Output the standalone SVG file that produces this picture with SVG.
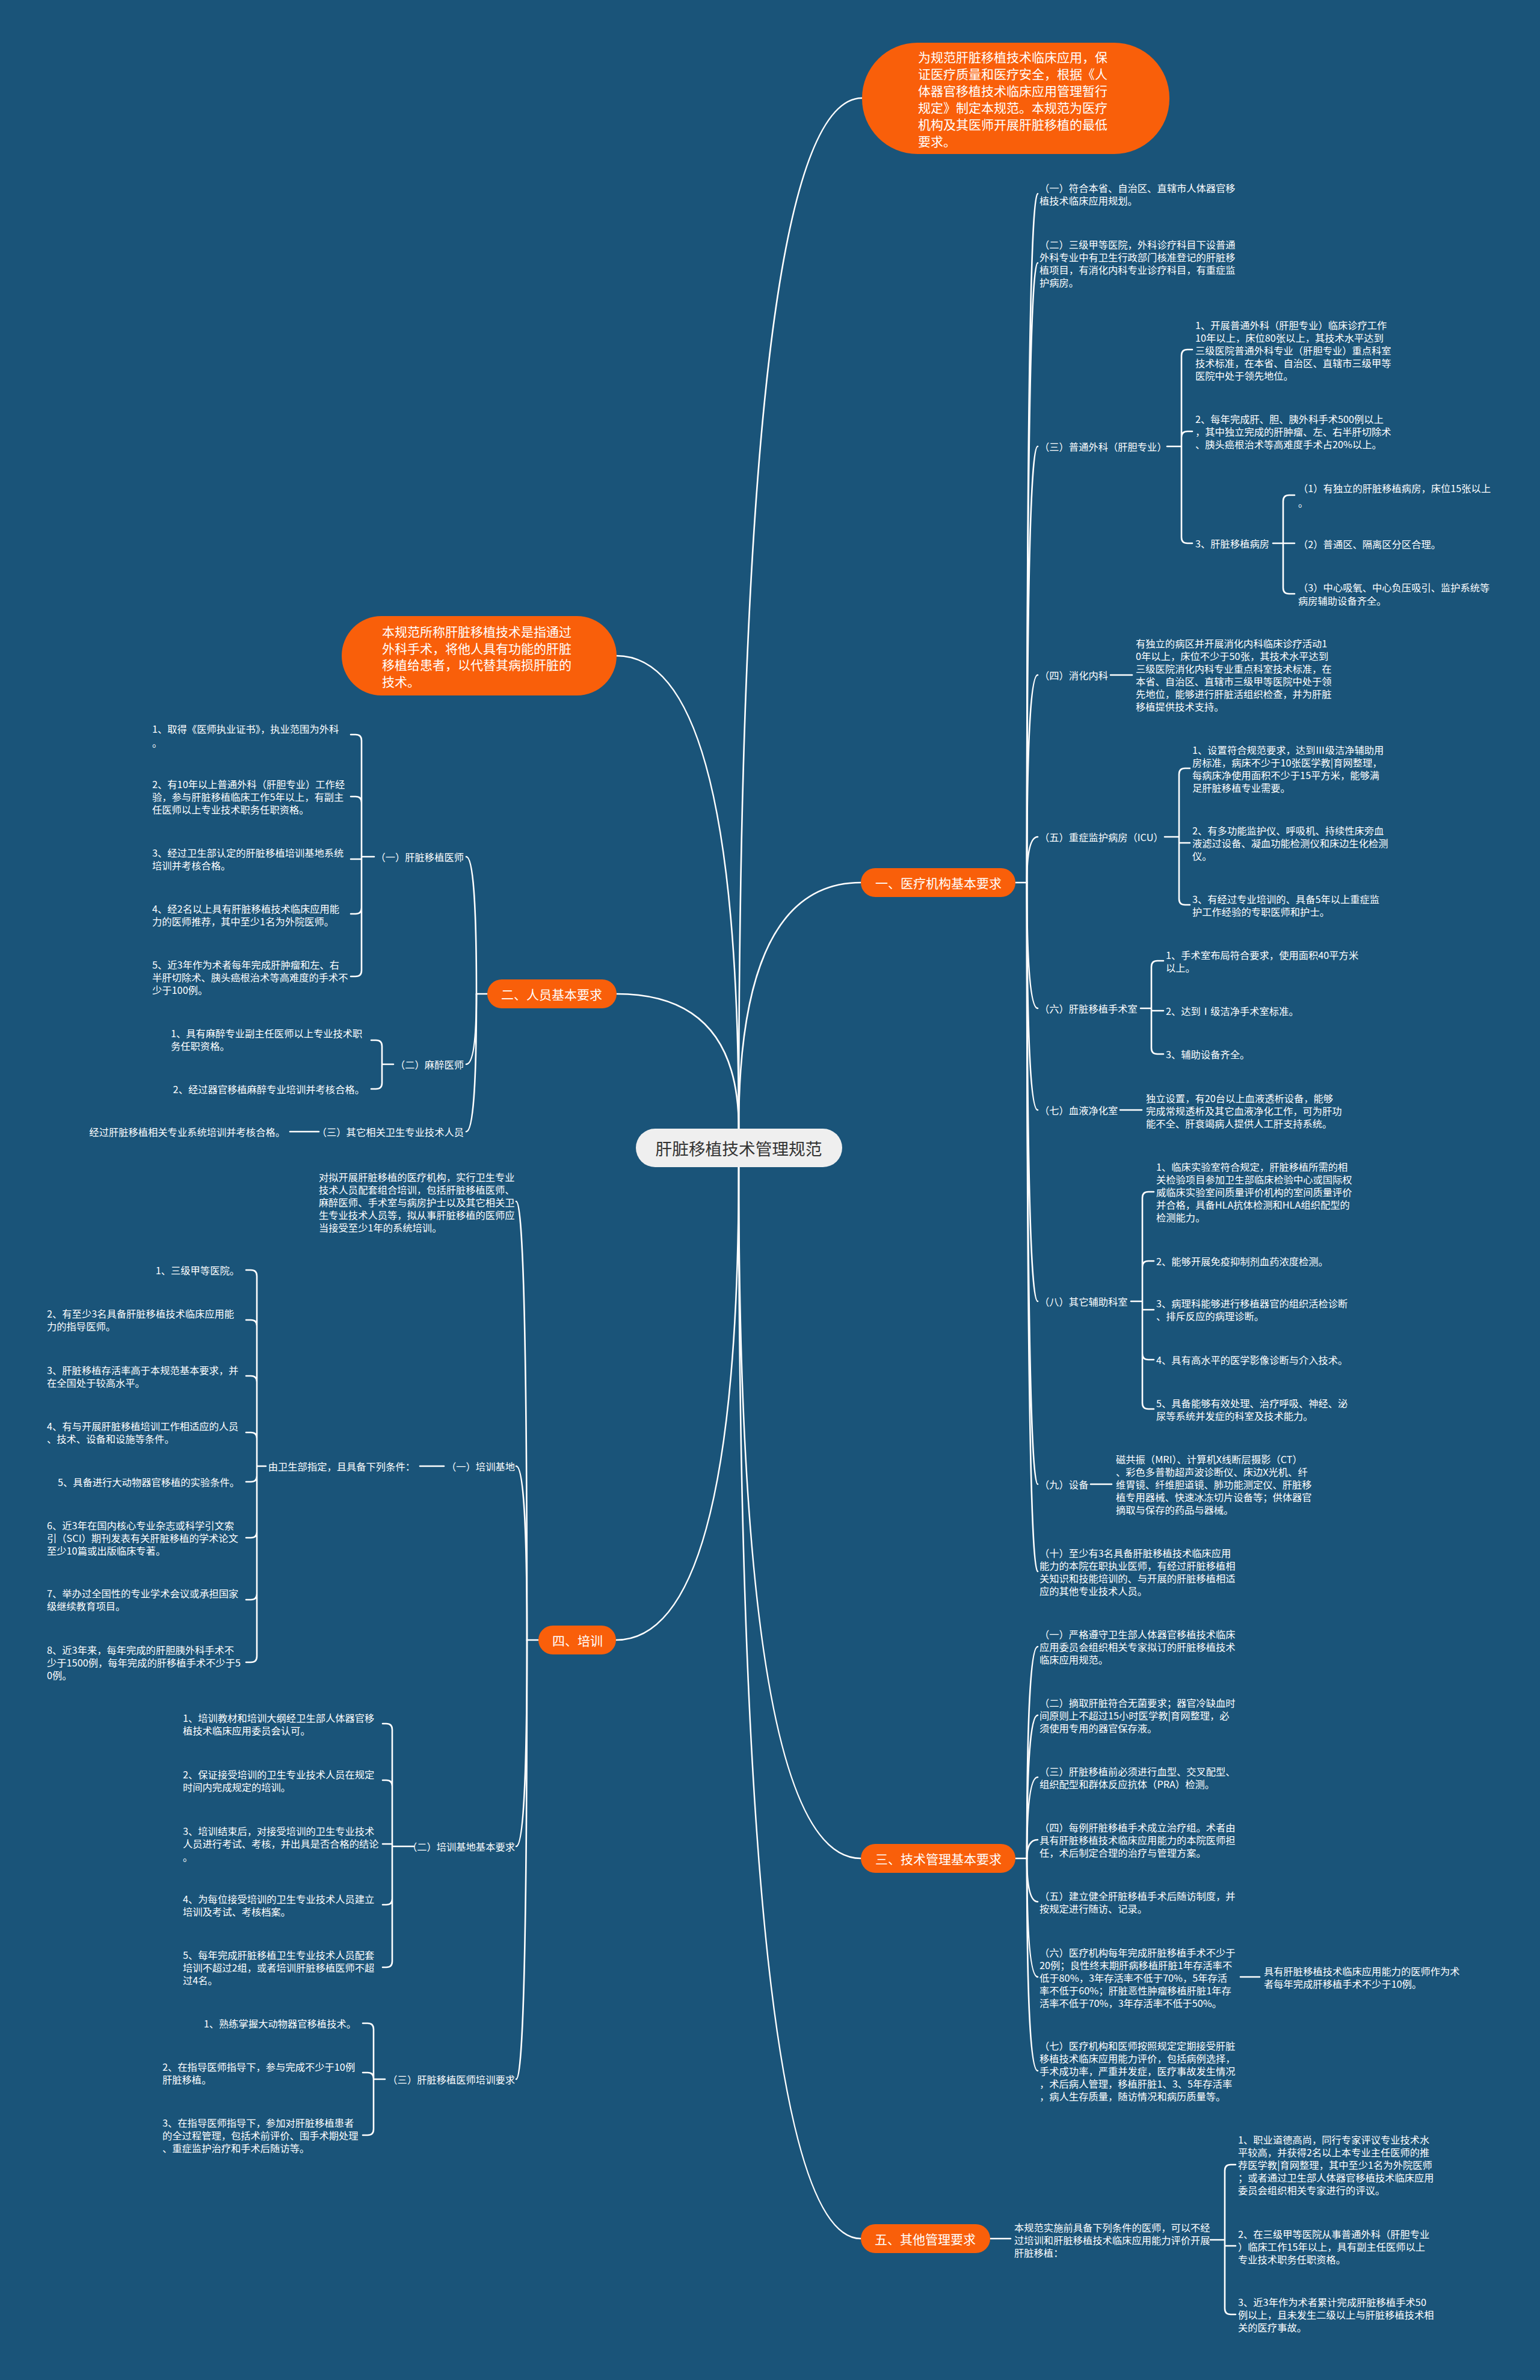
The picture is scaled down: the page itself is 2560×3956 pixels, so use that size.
<svg xmlns="http://www.w3.org/2000/svg" width="2560" height="3956" viewBox="0 0 2560 3956">
<style>
.t{font-family:"Noto Sans CJK SC","Noto Sans",sans-serif;font-size:16.3px;fill:#fff;dominant-baseline:central}
.e{text-anchor:end}
.p{font-family:"Noto Sans CJK SC","Noto Sans",sans-serif;font-size:21px;fill:#fff;dominant-baseline:central;text-anchor:middle}
.b{font-family:"Noto Sans CJK SC","Noto Sans",sans-serif;font-size:21px;fill:#fff;dominant-baseline:central}
.r{font-family:"Noto Sans CJK SC","Noto Sans",sans-serif;font-size:27.7px;fill:#333;dominant-baseline:central;text-anchor:middle}
.o{fill:#f95f0a}
.c path{fill:none;stroke:#fff;stroke-width:2.6;stroke-linecap:round}
</style>
<rect width="2560" height="3956" fill="#1a5479"/>
<g id="connectors" class="c">
<path d="M1228,1876 Q1228,163 1433,163"/>
<path d="M1228,1876 Q1228,1090 1025,1090"/>
<path d="M1228,1876 Q1228,1467 1431,1467"/>
<path d="M1228,1876 Q1228,1652 1025,1652"/>
<path d="M1228,1940 Q1228,2726 1024,2726"/>
<path d="M1228,1940 Q1228,3089 1431,3089"/>
<path d="M1228,1940 Q1228,3721 1431,3721"/>
<path d="M1688,1467 H1707 Q1707,322 1725,322"/>
<path d="M1707,1467 Q1707,437 1725,437"/>
<path d="M1707,1467 Q1707,742 1725,742"/>
<path d="M1707,1467 Q1707,1122 1725,1122"/>
<path d="M1707,1467 Q1707,1391 1725,1391"/>
<path d="M1707,1467 Q1707,1676 1725,1676"/>
<path d="M1707,1467 Q1707,1845 1725,1845"/>
<path d="M1707,1467 Q1707,2163 1725,2163"/>
<path d="M1707,1467 Q1707,2467 1725,2467"/>
<path d="M1707,1467 Q1707,2612 1725,2612"/>
<path d="M1940,742 H1964 M1964,742 V591 Q1964,581 1974,581 H1982 M1964,742 V727 Q1964,717 1974,717 H1982 M1964,742 V893 Q1964,903 1974,903 H1982"/>
<path d="M2116,903 H2152 M2133,903 V833 Q2133,823 2143,823 H2152 M2133,903 V977 Q2133,987 2143,987 H2152"/>
<path d="M1846,1122 H1882"/>
<path d="M1936,1391 H1960 M1960,1391 V1287 Q1960,1277 1970,1277 H1978 M1960,1391 V1401 H1978 M1960,1391 V1494 Q1960,1504 1970,1504 H1978"/>
<path d="M1896,1676 H1914 M1914,1676 V1607 Q1914,1597 1924,1597 H1934 M1914,1676 V1680 H1934 M1914,1676 V1742 Q1914,1752 1924,1752 H1934"/>
<path d="M1862,1845 H1898"/>
<path d="M1880,2163 H1899 M1899,2163 V1991 Q1899,1981 1909,1981 H1918 M1899,2163 V2106 Q1899,2096 1909,2096 H1918 M1899,2163 V2177 H1918 M1899,2163 V2250 Q1899,2260 1909,2260 H1918 M1899,2163 V2332 Q1899,2342 1909,2342 H1918"/>
<path d="M1813,2467 H1848"/>
<path d="M1688,3089 H1707 Q1707,2737 1725,2737"/>
<path d="M1707,3089 Q1707,2851 1725,2851"/>
<path d="M1707,3089 Q1707,2954 1725,2954"/>
<path d="M1707,3089 Q1707,3058 1725,3058"/>
<path d="M1707,3089 Q1707,3161 1725,3161"/>
<path d="M1707,3089 Q1707,3286 1725,3286"/>
<path d="M1707,3089 Q1707,3442 1725,3442"/>
<path d="M2062,3286 H2094"/>
<path d="M1646,3721 H1680"/>
<path d="M2012,3723 H2036 M2036,3723 V3608 Q2036,3598 2046,3598 H2054 M2036,3723 V3733 H2054 M2036,3723 V3837 Q2036,3847 2046,3847 H2054"/>
<path d="M810,1652 H792 Q792,1424 775,1424"/>
<path d="M792,1652 Q792,1769 775,1769"/>
<path d="M792,1652 Q792,1881 775,1881"/>
<path d="M622,1424 H601 M601,1424 V1231 Q601,1221 591,1221 H583 M601,1424 V1334 Q601,1324 591,1324 H583 M601,1424 V1428 H583 M601,1424 V1509 Q601,1519 591,1519 H583 M601,1424 V1613 Q601,1623 591,1623 H583"/>
<path d="M654,1769 H635 M635,1769 V1739 Q635,1729 625,1729 H617 M635,1769 V1800 Q635,1810 625,1810 H617"/>
<path d="M530,1881 H482"/>
<path d="M895,2726 H876 Q876,1997 858,1997"/>
<path d="M876,2726 Q876,2437 858,2437"/>
<path d="M876,2726 Q876,3069 858,3069"/>
<path d="M876,2726 Q876,3456 858,3456"/>
<path d="M738,2437 H698"/>
<path d="M442,2437 H427 M427,2437 V2121 Q427,2111 417,2111 H409 M427,2437 V2204 Q427,2194 417,2194 H409 M427,2437 V2297 Q427,2287 417,2287 H409 M427,2437 V2391 Q427,2381 417,2381 H409 M427,2437 V2453 Q427,2463 417,2463 H409 M427,2437 V2546 Q427,2556 417,2556 H409 M427,2437 V2649 Q427,2659 417,2659 H409 M427,2437 V2753 Q427,2763 417,2763 H409"/>
<path d="M688,3069 H652 M652,3069 V2875 Q652,2865 642,2865 H636 M652,3069 V2969 Q652,2959 642,2959 H636 M652,3069 V3065 H636 M652,3069 V3156 Q652,3166 642,3166 H636 M652,3069 V3260 Q652,3270 642,3270 H636"/>
<path d="M640,3456 H621 M621,3456 V3373 Q621,3363 611,3363 H603 M621,3456 V3455 Q621,3445 611,3445 H603 M621,3456 V3539 Q621,3549 611,3549 H603"/>
</g>
<g id="root"><rect x="1057" y="1876" width="343" height="64" rx="32" fill="#efefef"/><text class="r" x="1228" y="1908">肝脏移植技术管理规范</text></g>
<g id="intro1"><rect class="o" x="1433" y="71" width="511" height="185" rx="92"/><text class="b" x="1526" y="94"><tspan x="1526">为规范肝脏移植技术临床应用，保</tspan><tspan x="1526" dy="28">证医疗质量和医疗安全，根据《人</tspan><tspan x="1526" dy="28">体器官移植技术临床应用管理暂行</tspan><tspan x="1526" dy="28">规定》制定本规范。本规范为医疗</tspan><tspan x="1526" dy="28">机构及其医师开展肝脏移植的最低</tspan><tspan x="1526" dy="28">要求。</tspan></text></g>
<g id="intro2"><rect class="o" x="568" y="1024" width="457" height="132" rx="66"/><text class="b" x="635" y="1049"><tspan x="635">本规范所称肝脏移植技术是指通过</tspan><tspan x="635" dy="27.5">外科手术，将他人具有功能的肝脏</tspan><tspan x="635" dy="27.5">移植给患者，以代替其病损肝脏的</tspan><tspan x="635" dy="27.5">技术。</tspan></text></g>
<g id="b1"><rect class="o" x="1431" y="1443" width="257" height="48" rx="24"/><text class="p" x="1560" y="1467">一、医疗机构基本要求</text></g>
<g id="b2"><rect class="o" x="810" y="1628" width="215" height="48" rx="24"/><text class="p" x="917" y="1652">二、人员基本要求</text></g>
<g id="b3"><rect class="o" x="1431" y="3065" width="257" height="48" rx="24"/><text class="p" x="1560" y="3089">三、技术管理基本要求</text></g>
<g id="b4"><rect class="o" x="895" y="2702" width="129" height="48" rx="24"/><text class="p" x="960" y="2726">四、培训</text></g>
<g id="b5"><rect class="o" x="1431" y="3697" width="215" height="48" rx="24"/><text class="p" x="1538" y="3721">五、其他管理要求</text></g>
<g id="n1-1"><text class="t" x="1728" y="312"><tspan x="1728">（一）符合本省、自治区、直辖市人体器官移</tspan><tspan x="1728" dy="21">植技术临床应用规划。</tspan></text></g>
<g id="n1-2"><text class="t" x="1728" y="406"><tspan x="1728">（二）三级甲等医院，外科诊疗科目下设普通</tspan><tspan x="1728" dy="21">外科专业中有卫生行政部门核准登记的肝脏移</tspan><tspan x="1728" dy="21">植项目，有消化内科专业诊疗科目，有重症监</tspan><tspan x="1728" dy="21">护病房。</tspan></text></g>
<g id="n1-3"><text class="t" x="1728" y="742">（三）普通外科（肝胆专业）</text></g>
<g id="n1-3-1"><text class="t" x="1987" y="540"><tspan x="1987">1、开展普通外科（肝胆专业）临床诊疗工作</tspan><tspan x="1987" dy="21">10年以上，床位80张以上，其技术水平达到</tspan><tspan x="1987" dy="21">三级医院普通外科专业（肝胆专业）重点科室</tspan><tspan x="1987" dy="21">技术标准，在本省、自治区、直辖市三级甲等</tspan><tspan x="1987" dy="21">医院中处于领先地位。</tspan></text></g>
<g id="n1-3-2"><text class="t" x="1987" y="696"><tspan x="1987">2、每年完成肝、胆、胰外科手术500例以上</tspan><tspan x="1987" dy="21">，其中独立完成的肝肿瘤、左、右半肝切除术</tspan><tspan x="1987" dy="21">、胰头癌根治术等高难度手术占20%以上。</tspan></text></g>
<g id="n1-3-3"><text class="t" x="1987" y="903">3、肝脏移植病房</text></g>
<g id="n1-3-3-1"><text class="t" x="2158" y="811"><tspan x="2158">（1）有独立的肝脏移植病房，床位15张以上</tspan><tspan x="2158" dy="24">。</tspan></text></g>
<g id="n1-3-3-2"><text class="t" x="2158" y="904">（2）普通区、隔离区分区合理。</text></g>
<g id="n1-3-3-3"><text class="t" x="2158" y="976"><tspan x="2158">（3）中心吸氧、中心负压吸引、监护系统等</tspan><tspan x="2158" dy="22">病房辅助设备齐全。</tspan></text></g>
<g id="n1-4"><text class="t" x="1728" y="1122">（四）消化内科</text></g>
<g id="n1-4-1"><text class="t" x="1888" y="1069"><tspan x="1888">有独立的病区并开展消化内科临床诊疗活动1</tspan><tspan x="1888" dy="21">0年以上，床位不少于50张，其技术水平达到</tspan><tspan x="1888" dy="21">三级医院消化内科专业重点科室技术标准，在</tspan><tspan x="1888" dy="21">本省、自治区、直辖市三级甲等医院中处于领</tspan><tspan x="1888" dy="21">先地位，能够进行肝脏活组织检查，并为肝脏</tspan><tspan x="1888" dy="21">移植提供技术支持。</tspan></text></g>
<g id="n1-5"><text class="t" x="1728" y="1391">（五）重症监护病房（ICU）</text></g>
<g id="n1-5-1"><text class="t" x="1982" y="1246"><tspan x="1982">1、设置符合规范要求，达到Ⅲ级洁净辅助用</tspan><tspan x="1982" dy="21">房标准，病床不少于10张医学教|育网整理，</tspan><tspan x="1982" dy="21">每病床净使用面积不少于15平方米，能够满</tspan><tspan x="1982" dy="21">足肝脏移植专业需要。</tspan></text></g>
<g id="n1-5-2"><text class="t" x="1982" y="1380"><tspan x="1982">2、有多功能监护仪、呼吸机、持续性床旁血</tspan><tspan x="1982" dy="21">液滤过设备、凝血功能检测仪和床边生化检测</tspan><tspan x="1982" dy="21">仪。</tspan></text></g>
<g id="n1-5-3"><text class="t" x="1982" y="1494"><tspan x="1982">3、有经过专业培训的、具备5年以上重症监</tspan><tspan x="1982" dy="21">护工作经验的专职医师和护士。</tspan></text></g>
<g id="n1-6"><text class="t" x="1728" y="1676">（六）肝脏移植手术室</text></g>
<g id="n1-6-1"><text class="t" x="1938" y="1587"><tspan x="1938">1、手术室布局符合要求，使用面积40平方米</tspan><tspan x="1938" dy="21">以上。</tspan></text></g>
<g id="n1-6-2"><text class="t" x="1938" y="1680">2、达到Ⅰ级洁净手术室标准。</text></g>
<g id="n1-6-3"><text class="t" x="1938" y="1752">3、辅助设备齐全。</text></g>
<g id="n1-7"><text class="t" x="1728" y="1845">（七）血液净化室</text></g>
<g id="n1-7-1"><text class="t" x="1905" y="1825"><tspan x="1905">独立设置，有20台以上血液透析设备，能够</tspan><tspan x="1905" dy="21">完成常规透析及其它血液净化工作，可为肝功</tspan><tspan x="1905" dy="21">能不全、肝衰竭病人提供人工肝支持系统。</tspan></text></g>
<g id="n1-8"><text class="t" x="1728" y="2163">（八）其它辅助科室</text></g>
<g id="n1-8-1"><text class="t" x="1922" y="1939"><tspan x="1922">1、临床实验室符合规定，肝脏移植所需的相</tspan><tspan x="1922" dy="21">关检验项目参加卫生部临床检验中心或国际权</tspan><tspan x="1922" dy="21">威临床实验室间质量评价机构的室间质量评价</tspan><tspan x="1922" dy="21">并合格，具备HLA抗体检测和HLA组织配型的</tspan><tspan x="1922" dy="21">检测能力。</tspan></text></g>
<g id="n1-8-2"><text class="t" x="1922" y="2096">2、能够开展免疫抑制剂血药浓度检测。</text></g>
<g id="n1-8-3"><text class="t" x="1922" y="2166"><tspan x="1922">3、病理科能够进行移植器官的组织活检诊断</tspan><tspan x="1922" dy="21">、排斥反应的病理诊断。</tspan></text></g>
<g id="n1-8-4"><text class="t" x="1922" y="2260">4、具有高水平的医学影像诊断与介入技术。</text></g>
<g id="n1-8-5"><text class="t" x="1922" y="2332"><tspan x="1922">5、具备能够有效处理、治疗呼吸、神经、泌</tspan><tspan x="1922" dy="21">尿等系统并发症的科室及技术能力。</tspan></text></g>
<g id="n1-9"><text class="t" x="1728" y="2467">（九）设备</text></g>
<g id="n1-9-1"><text class="t" x="1855" y="2425"><tspan x="1855">磁共振（MRI）、计算机X线断层摄影（CT）</tspan><tspan x="1855" dy="21">、彩色多普勒超声波诊断仪、床边X光机、纤</tspan><tspan x="1855" dy="21">维胃镜、纤维胆道镜、肺功能测定仪、肝脏移</tspan><tspan x="1855" dy="21">植专用器械、快速冰冻切片设备等；供体器官</tspan><tspan x="1855" dy="21">摘取与保存的药品与器械。</tspan></text></g>
<g id="n1-10"><text class="t" x="1728" y="2581"><tspan x="1728">（十）至少有3名具备肝脏移植技术临床应用</tspan><tspan x="1728" dy="21">能力的本院在职执业医师，有经过肝脏移植相</tspan><tspan x="1728" dy="21">关知识和技能培训的、与开展的肝脏移植相适</tspan><tspan x="1728" dy="21">应的其他专业技术人员。</tspan></text></g>
<g id="n3-1"><text class="t" x="1728" y="2716"><tspan x="1728">（一）严格遵守卫生部人体器官移植技术临床</tspan><tspan x="1728" dy="21">应用委员会组织相关专家拟订的肝脏移植技术</tspan><tspan x="1728" dy="21">临床应用规范。</tspan></text></g>
<g id="n3-2"><text class="t" x="1728" y="2830"><tspan x="1728">（二）摘取肝脏符合无菌要求；器官冷缺血时</tspan><tspan x="1728" dy="21">间原则上不超过15小时医学教|育网整理，必</tspan><tspan x="1728" dy="21">须使用专用的器官保存液。</tspan></text></g>
<g id="n3-3"><text class="t" x="1728" y="2944"><tspan x="1728">（三）肝脏移植前必须进行血型、交叉配型、</tspan><tspan x="1728" dy="21">组织配型和群体反应抗体（PRA）检测。</tspan></text></g>
<g id="n3-4"><text class="t" x="1728" y="3037"><tspan x="1728">（四）每例肝脏移植手术成立治疗组。术者由</tspan><tspan x="1728" dy="21">具有肝脏移植技术临床应用能力的本院医师担</tspan><tspan x="1728" dy="21">任，术后制定合理的治疗与管理方案。</tspan></text></g>
<g id="n3-5"><text class="t" x="1728" y="3151"><tspan x="1728">（五）建立健全肝脏移植手术后随访制度，并</tspan><tspan x="1728" dy="21">按规定进行随访、记录。</tspan></text></g>
<g id="n3-6"><text class="t" x="1728" y="3245"><tspan x="1728">（六）医疗机构每年完成肝脏移植手术不少于</tspan><tspan x="1728" dy="21">20例；良性终末期肝病移植肝脏1年存活率不</tspan><tspan x="1728" dy="21">低于80%，3年存活率不低于70%，5年存活</tspan><tspan x="1728" dy="21">率不低于60%；肝脏恶性肿瘤移植肝脏1年存</tspan><tspan x="1728" dy="21">活率不低于70%，3年存活率不低于50%。</tspan></text></g>
<g id="n3-6-1"><text class="t" x="2101" y="3276"><tspan x="2101">具有肝脏移植技术临床应用能力的医师作为术</tspan><tspan x="2101" dy="21">者每年完成肝移植手术不少于10例。</tspan></text></g>
<g id="n3-7"><text class="t" x="1728" y="3400"><tspan x="1728">（七）医疗机构和医师按照规定定期接受肝脏</tspan><tspan x="1728" dy="21">移植技术临床应用能力评价，包括病例选择，</tspan><tspan x="1728" dy="21">手术成功率，严重并发症，医疗事故发生情况</tspan><tspan x="1728" dy="21">，术后病人管理，移植肝脏1、3、5年存活率</tspan><tspan x="1728" dy="21">，病人生存质量，随访情况和病历质量等。</tspan></text></g>
<g id="n5-1"><text class="t" x="1686" y="3702"><tspan x="1686">本规范实施前具备下列条件的医师，可以不经</tspan><tspan x="1686" dy="21">过培训和肝脏移植技术临床应用能力评价开展</tspan><tspan x="1686" dy="21">肝脏移植：</tspan></text></g>
<g id="n5-1-1"><text class="t" x="2058" y="3556"><tspan x="2058">1、职业道德高尚，同行专家评议专业技术水</tspan><tspan x="2058" dy="21">平较高，并获得2名以上本专业主任医师的推</tspan><tspan x="2058" dy="21">荐医学教|育网整理，其中至少1名为外院医师</tspan><tspan x="2058" dy="21">；或者通过卫生部人体器官移植技术临床应用</tspan><tspan x="2058" dy="21">委员会组织相关专家进行的评议。</tspan></text></g>
<g id="n5-1-2"><text class="t" x="2058" y="3713"><tspan x="2058">2、在三级甲等医院从事普通外科（肝胆专业</tspan><tspan x="2058" dy="21">）临床工作15年以上，具有副主任医师以上</tspan><tspan x="2058" dy="21">专业技术职务任职资格。</tspan></text></g>
<g id="n5-1-3"><text class="t" x="2058" y="3826"><tspan x="2058">3、近3年作为术者累计完成肝脏移植手术50</tspan><tspan x="2058" dy="21">例以上，且未发生二级以上与肝脏移植技术相</tspan><tspan x="2058" dy="21">关的医疗事故。</tspan></text></g>
<g id="n2-1"><text class="t e" x="771" y="1424">（一）肝脏移植医师</text></g>
<g id="n2-1-1"><text class="t" x="253" y="1211"><tspan x="253">1、取得《医师执业证书》，执业范围为外科</tspan><tspan x="253" dy="23">。</tspan></text></g>
<g id="n2-1-2"><text class="t" x="253" y="1303"><tspan x="253">2、有10年以上普通外科（肝胆专业）工作经</tspan><tspan x="253" dy="21">验，参与肝脏移植临床工作5年以上，有副主</tspan><tspan x="253" dy="21">任医师以上专业技术职务任职资格。</tspan></text></g>
<g id="n2-1-3"><text class="t" x="253" y="1417"><tspan x="253">3、经过卫生部认定的肝脏移植培训基地系统</tspan><tspan x="253" dy="21">培训并考核合格。</tspan></text></g>
<g id="n2-1-4"><text class="t" x="253" y="1510"><tspan x="253">4、经2名以上具有肝脏移植技术临床应用能</tspan><tspan x="253" dy="21">力的医师推荐，其中至少1名为外院医师。</tspan></text></g>
<g id="n2-1-5"><text class="t" x="253" y="1603"><tspan x="253">5、近3年作为术者每年完成肝肿瘤和左、右</tspan><tspan x="253" dy="21">半肝切除术、胰头癌根治术等高难度的手术不</tspan><tspan x="253" dy="21">少于100例。</tspan></text></g>
<g id="n2-2"><text class="t e" x="771" y="1769">（二）麻醉医师</text></g>
<g id="n2-2-1"><text class="t" x="284" y="1717"><tspan x="284">1、具有麻醉专业副主任医师以上专业技术职</tspan><tspan x="284" dy="21">务任职资格。</tspan></text></g>
<g id="n2-2-2"><text class="t e" x="606" y="1810">2、经过器官移植麻醉专业培训并考核合格。</text></g>
<g id="n2-3"><text class="t e" x="771" y="1881">（三）其它相关卫生专业技术人员</text></g>
<g id="n2-3-1"><text class="t e" x="474" y="1881">经过肝脏移植相关专业系统培训并考核合格。</text></g>
<g id="n4-0"><text class="t" x="530" y="1956"><tspan x="530">对拟开展肝脏移植的医疗机构，实行卫生专业</tspan><tspan x="530" dy="21">技术人员配套组合培训，包括肝脏移植医师、</tspan><tspan x="530" dy="21">麻醉医师、手术室与病房护士以及其它相关卫</tspan><tspan x="530" dy="21">生专业技术人员等，拟从事肝脏移植的医师应</tspan><tspan x="530" dy="21">当接受至少1年的系统培训。</tspan></text></g>
<g id="n4-1"><text class="t e" x="856" y="2437">（一）培训基地</text></g>
<g id="n4-1-0"><text class="t e" x="690" y="2437">由卫生部指定，且具备下列条件：</text></g>
<g id="n4-1-1"><text class="t e" x="398" y="2111">1、三级甲等医院。</text></g>
<g id="n4-1-2"><text class="t" x="78" y="2183"><tspan x="78">2、有至少3名具备肝脏移植技术临床应用能</tspan><tspan x="78" dy="21">力的指导医师。</tspan></text></g>
<g id="n4-1-3"><text class="t" x="78" y="2277"><tspan x="78">3、肝脏移植存活率高于本规范基本要求，并</tspan><tspan x="78" dy="21">在全国处于较高水平。</tspan></text></g>
<g id="n4-1-4"><text class="t" x="78" y="2370"><tspan x="78">4、有与开展肝脏移植培训工作相适应的人员</tspan><tspan x="78" dy="21">、技术、设备和设施等条件。</tspan></text></g>
<g id="n4-1-5"><text class="t e" x="398" y="2463">5、具备进行大动物器官移植的实验条件。</text></g>
<g id="n4-1-6"><text class="t" x="78" y="2535"><tspan x="78">6、近3年在国内核心专业杂志或科学引文索</tspan><tspan x="78" dy="21">引（SCI）期刊发表有关肝脏移植的学术论文</tspan><tspan x="78" dy="21">至少10篇或出版临床专著。</tspan></text></g>
<g id="n4-1-7"><text class="t" x="78" y="2648"><tspan x="78">7、举办过全国性的专业学术会议或承担国家</tspan><tspan x="78" dy="21">级继续教育项目。</tspan></text></g>
<g id="n4-1-8"><text class="t" x="78" y="2742"><tspan x="78">8、近3年来，每年完成的肝胆胰外科手术不</tspan><tspan x="78" dy="21">少于1500例，每年完成的肝移植手术不少于5</tspan><tspan x="78" dy="21">0例。</tspan></text></g>
<g id="n4-2"><text class="t e" x="856" y="3069">（二）培训基地基本要求</text></g>
<g id="n4-2-1"><text class="t" x="304" y="2855"><tspan x="304">1、培训教材和培训大纲经卫生部人体器官移</tspan><tspan x="304" dy="21">植技术临床应用委员会认可。</tspan></text></g>
<g id="n4-2-2"><text class="t" x="304" y="2949"><tspan x="304">2、保证接受培训的卫生专业技术人员在规定</tspan><tspan x="304" dy="21">时间内完成规定的培训。</tspan></text></g>
<g id="n4-2-3"><text class="t" x="304" y="3043"><tspan x="304">3、培训结束后，对接受培训的卫生专业技术</tspan><tspan x="304" dy="21">人员进行考试、考核，并出具是否合格的结论</tspan><tspan x="304" dy="22">。</tspan></text></g>
<g id="n4-2-4"><text class="t" x="304" y="3156"><tspan x="304">4、为每位接受培训的卫生专业技术人员建立</tspan><tspan x="304" dy="21">培训及考试、考核档案。</tspan></text></g>
<g id="n4-2-5"><text class="t" x="304" y="3249"><tspan x="304">5、每年完成肝脏移植卫生专业技术人员配套</tspan><tspan x="304" dy="21">培训不超过2组，或者培训肝脏移植医师不超</tspan><tspan x="304" dy="21">过4名。</tspan></text></g>
<g id="n4-3"><text class="t e" x="856" y="3456">（三）肝脏移植医师培训要求</text></g>
<g id="n4-3-1"><text class="t e" x="592" y="3363">1、熟练掌握大动物器官移植技术。</text></g>
<g id="n4-3-2"><text class="t" x="270" y="3435"><tspan x="270">2、在指导医师指导下，参与完成不少于10例</tspan><tspan x="270" dy="21">肝脏移植。</tspan></text></g>
<g id="n4-3-3"><text class="t" x="270" y="3528"><tspan x="270">3、在指导医师指导下，参加对肝脏移植患者</tspan><tspan x="270" dy="21">的全过程管理，包括术前评价、围手术期处理</tspan><tspan x="270" dy="21">、重症监护治疗和手术后随访等。</tspan></text></g>
</svg>
